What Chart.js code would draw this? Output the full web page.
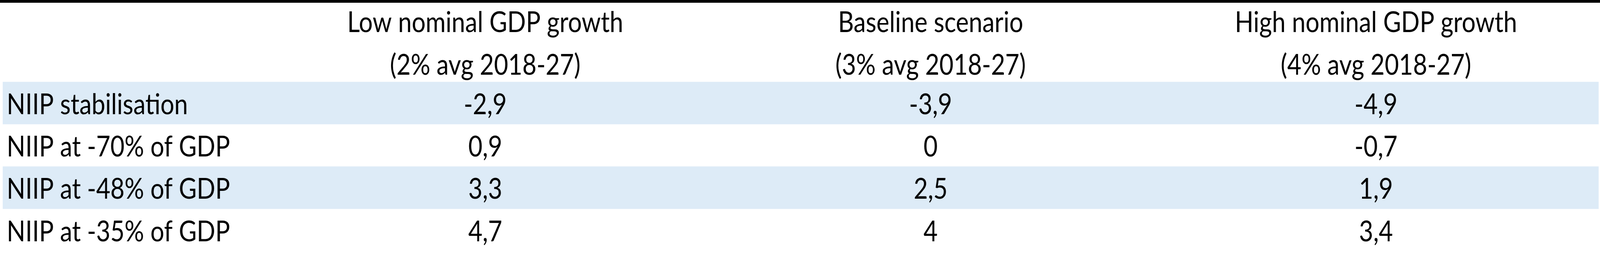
<!DOCTYPE html>
<html>
<head>
<meta charset="utf-8">
<style>
  html, body { margin: 0; padding: 0; background: #ffffff; overflow: hidden; }
  #chart { display: block; }
</style>
<script src="https://cdn.jsdelivr.net/npm/chart.js@4.4.1/dist/chart.umd.min.js"></script>
</head>
<body>
<canvas id="chart" width="4775" height="698" style="width:100vw;height:100vh"></canvas>
<script>
// ---- Data ----
const rowLabels = ['NIIP stabilisation', 'NIIP at -70% of GDP', 'NIIP at -48% of GDP', 'NIIP at -35% of GDP'];
const headerLine1 = ['Low nominal GDP growth', 'Baseline scenario', 'High nominal GDP growth'];
const headerLine2 = ['(2% avg 2018-27)', '(3% avg 2018-27)', '(4% avg 2018-27)'];
const lowGrowth = [-2.9, 0.9, 3.3, 4.7];
const baseline = [-3.9, 0, 2.5, 4];
const highGrowth = [-4.9, -0.7, 1.9, 3.4];
const columnValues = [lowGrowth, baseline, highGrowth];

// ---- Layout / style constants (4775 x 698 drawing space) ----
const FONT_FAMILY = 'Lato';
const FONT_SIZE = 73;
const LABEL_COL_UNITS = 0.5835;       // width of the label column, in value-column units
const X_MIN = -LABEL_COL_UNITS;
const X_MAX = columnValues.length;
const BAND_COLOR = '#DDEBF7';
const RULE_HEIGHT = 7;
const HEADER_HEIGHT = 202.3;
const HEADER_LINE = 109;
const ROW_BASELINE_BELOW_CENTER = 28.6;   // text baseline position inside a row
const HEADER_BASELINE_ABOVE_AREA = 18.7;  // baseline of the 2nd header line above the table body

// distance from the canvas 'middle' text baseline to the alphabetic baseline for this font
const canvasEl = document.getElementById('chart');
const mctx = canvasEl.getContext('2d');
mctx.font = FONT_SIZE + 'px ' + FONT_FAMILY;
mctx.textBaseline = 'middle';
const MID_TO_BASE = mctx.measureText('N').actualBoundingBoxDescent || 22.3;
const TEXT_SHIFT = ROW_BASELINE_BELOW_CENTER - MID_TO_BASE;
const HEADER_PAD = -(HEADER_BASELINE_ABOVE_AREA * -1 + HEADER_LINE / 2 - MID_TO_BASE) - 0;
// y(middle of line 2) = areaTop - pad - HEADER_LINE/2 must equal areaTop - HEADER_BASELINE_ABOVE_AREA - MID_TO_BASE
const HEADER_PADDING = HEADER_BASELINE_ABOVE_AREA + MID_TO_BASE - HEADER_LINE / 2;

const fmt = v => String(v).replace('.', ',');

Chart.defaults.font.family = FONT_FAMILY;
Chart.defaults.color = '#000000';

// striped row bands (every other row), spanning the full table width
const bandData = rowLabels.map((_, i) => (i % 2 === 0 ? [X_MIN, X_MAX] : null));

const datasets = [{
  type: 'bar',
  label: 'bands',
  indexAxis: 'y',
  data: bandData,
  backgroundColor: BAND_COLOR,
  borderWidth: 0,
  barPercentage: 1,
  categoryPercentage: 1,
  order: 2
}];
columnValues.forEach((vals, c) => {
  datasets.push({
    type: 'scatter',
    label: headerLine1[c],
    data: vals.map((v, r) => ({ x: c + 0.5, y: rowLabels[r], v: v })),
    pointRadius: 0,
    pointHoverRadius: 0,
    showLine: false,
    order: 1
  });
});

const rulePlugin = {
  id: 'topRule',
  afterDraw(chart) {
    const ctx = chart.ctx;
    ctx.save();
    ctx.fillStyle = '#000000';
    ctx.fillRect(0, 0, chart.width, RULE_HEIGHT);
    ctx.restore();
  }
};

const cellTextPlugin = {
  id: 'cellText',
  afterDatasetsDraw(chart) {
    const ctx = chart.ctx;
    ctx.save();
    ctx.font = FONT_SIZE + 'px ' + FONT_FAMILY;
    ctx.fillStyle = '#000000';
    ctx.textAlign = 'center';
    ctx.textBaseline = 'middle';
    chart.data.datasets.forEach((ds, di) => {
      if (ds.type !== 'scatter') return;
      const meta = chart.getDatasetMeta(di);
      meta.data.forEach((el, i) => {
        ctx.fillText(fmt(ds.data[i].v), el.x, el.y + TEXT_SHIFT);
      });
    });
    ctx.restore();
  }
};

new Chart(canvasEl, {
  type: 'bar',
  data: { labels: rowLabels, datasets: datasets },
  options: {
    indexAxis: 'y',
    responsive: false,
    animation: false,
    devicePixelRatio: 1,
    layout: { padding: { top: RULE_HEIGHT, left: 8, right: 4, bottom: 6 } },
    plugins: { legend: { display: false }, tooltip: { enabled: false } },
    scales: {
      x: {
        type: 'linear',
        position: 'top',
        min: X_MIN,
        max: X_MAX,
        grid: { display: false, drawTicks: false },
        border: { display: false },
        afterBuildTicks: s => { s.ticks = headerLine1.map((_, i) => ({ value: i + 0.5 })); },
        afterFit: s => { s.height = HEADER_HEIGHT; },
        ticks: {
          callback: (v, i) => [headerLine1[i], headerLine2[i]],
          font: { size: FONT_SIZE, lineHeight: HEADER_LINE + 'px' },
          color: '#000000',
          padding: HEADER_PADDING,
          autoSkip: false,
          minRotation: 0,
          maxRotation: 0
        }
      },
      y: {
        type: 'category',
        offset: true,
        grid: { display: false, drawTicks: false },
        border: { display: false },
        afterFit: s => { s.width = 0; },
        ticks: {
          z: 1,
          mirror: true,
          padding: 12,
          labelOffset: TEXT_SHIFT,
          autoSkip: false,
          font: { size: FONT_SIZE },
          color: '#000000'
        }
      }
    }
  },
  plugins: [rulePlugin, cellTextPlugin]
});
</script>
</body>
</html>
